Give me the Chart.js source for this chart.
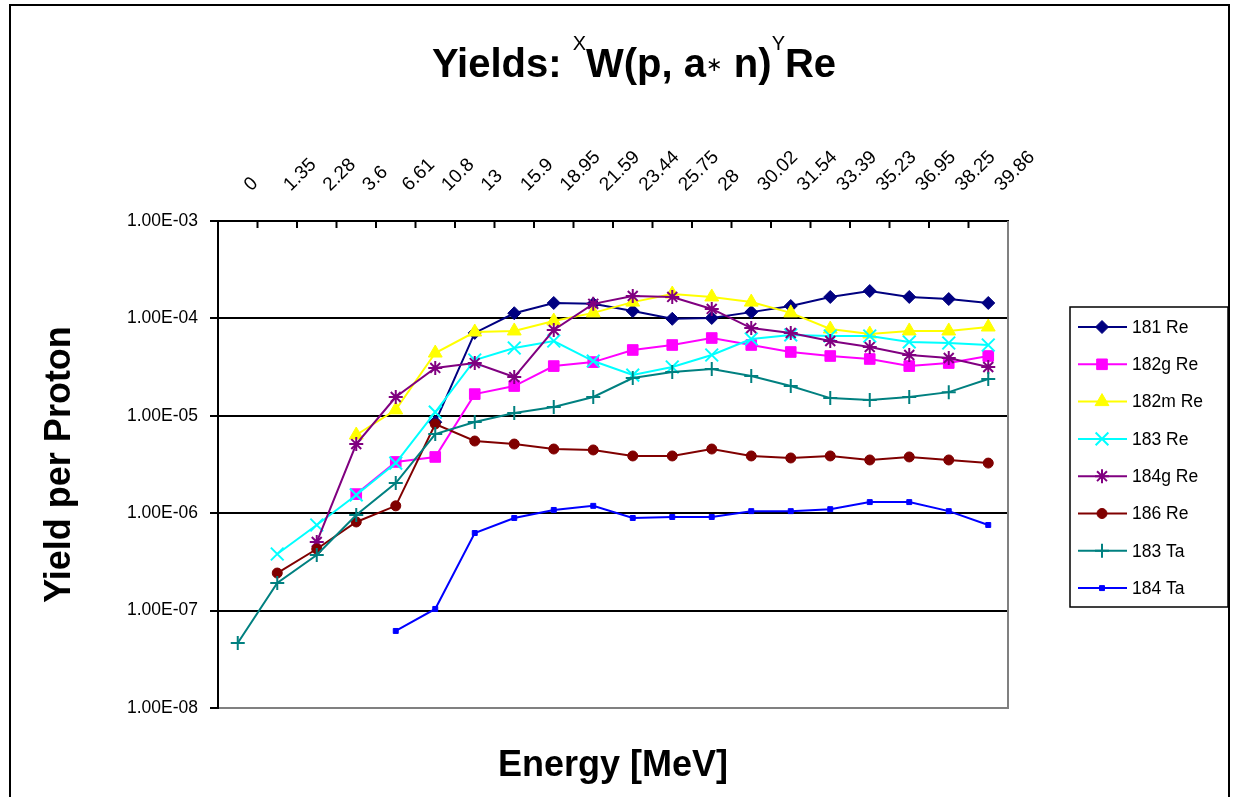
<!DOCTYPE html>
<html>
<head>
<meta charset="utf-8">
<script src="https://cdn.jsdelivr.net/npm/chart.js@4/dist/chart.umd.min.js"></script>
<style>
body{margin:0;background:#fff}
#wrap{width:1233px;height:797px;position:relative}
</style>
</head>
<body>
<div id="wrap"><canvas id="yieldChart"></canvas></div>
<script>
const energies=["0","1.35","2.28","3.6","6.61","10.8","13","15.9","18.95","21.59","23.44","25.75","28","30.02","31.54","33.39","35.23","36.95","38.25","39.86"]

const re181=[null,null,null,null,null,8.6e-6,7.1e-5,1.13e-4,1.44e-4,1.41e-4,1.19e-4,9.9e-5,1.01e-4,1.16e-4,1.34e-4,1.66e-4,1.91e-4,1.66e-4,1.58e-4,1.44e-4]
const re182g=[null,null,null,1.57e-6,3.36e-6,3.78e-6,1.67e-5,2.02e-5,3.24e-5,3.56e-5,4.74e-5,5.33e-5,6.29e-5,5.33e-5,4.52e-5,4.11e-5,3.83e-5,3.24e-5,3.48e-5,4.11e-5]
const re182m=[null,null,null,6.35e-6,1.15e-5,4.41e-5,7.25e-5,7.43e-5,9.4e-5,1.14e-4,1.47e-4,1.78e-4,1.66e-4,1.47e-4,1.14e-4,7.78e-5,6.92e-5,7.43e-5,7.43e-5,8.16e-5]
const re183=[null,3.81e-7,7.57e-7,1.54e-6,3.27e-6,1.09e-5,3.74e-5,4.97e-5,5.86e-5,3.65e-5,2.62e-5,3.17e-5,4.21e-5,6.15e-5,6.76e-5,6.6e-5,6.6e-5,5.73e-5,5.59e-5,5.33e-5]
const re184g=[null,null,5.06e-7,5.13e-6,1.56e-5,3.1e-5,3.48e-5,2.5e-5,7.6e-5,1.41e-4,1.7e-4,1.66e-4,1.25e-4,7.96e-5,7.08e-5,5.86e-5,5.08e-5,4.21e-5,3.92e-5,3.17e-5]
const re186=[null,2.43e-7,4.29e-7,8.13e-7,1.19e-6,8.24e-6,5.51e-6,5.13e-6,4.56e-6,4.46e-6,3.87e-6,3.87e-6,4.56e-6,3.87e-6,3.69e-6,3.87e-6,3.52e-6,3.78e-6,3.52e-6,3.27e-6]
const ta183=[4.65e-8,1.92e-7,3.72e-7,9.59e-7,2.04e-6,6.5e-6,8.63e-6,1.07e-5,1.23e-5,1.56e-5,2.44e-5,2.82e-5,3.02e-5,2.56e-5,2.02e-5,1.52e-5,1.45e-5,1.56e-5,1.75e-5,2.39e-5]
const ta184=[null,null,null,null,6.18e-8,1.04e-7,6.26e-7,8.93e-7,1.08e-6,1.19e-6,8.93e-7,9.14e-7,9.14e-7,1.05e-6,1.05e-6,1.1e-6,1.3e-6,1.3e-6,1.05e-6,7.57e-7]

const seriesNames=["181 Re","182g Re","182m Re","183 Re","184g Re","186 Re","183 Ta","184 Ta"]
const seriesData=[re181,re182g,re182m,re183,re184g,re186,ta183,ta184]
const yTicks=[1e-8,1e-7,1e-6,1e-5,1e-4,1e-3]

const colors=["#000080","#FF00FF","#FFFF00","#00FFFF","#800080","#800000","#008080","#0000FF"]
const styles=["rectRot","rect","triangle","crossRot","star","circle","cross","rect"]
const radii=[6.5,7.5,8,9,7,5,7,3.5]

function sci(v){
let e=Math.round(Math.log10(v))
return "1.00E"+(e<0?"-":"+")+String(Math.abs(e)).padStart(2,"0")
}

const FONT="'Liberation Sans', Arial, sans-serif"

const datasets=seriesNames.map((n,i)=>({
label:n,
data:seriesData[i],
borderColor:colors[i],
backgroundColor:colors[i],
pointBackgroundColor:colors[i],
pointBorderColor:colors[i],
pointStyle:styles[i],
pointRadius:radii[i],
pointBorderWidth:(styles[i]=="cross"||styles[i]=="crossRot"||styles[i]=="star")?2:1,
borderWidth:2,
tension:0,
spanGaps:false,
order:seriesNames.length-i,
xAxisID:"x",
yAxisID:"y"
}))

const decor={
id:"decor",
beforeDraw(chart){
const c=chart.ctx
c.save()
c.fillStyle="#fff"
c.fillRect(0,0,chart.width,chart.height)
c.restore()
},
afterDraw(chart){
const c=chart.ctx
const x=chart.scales.x
const a=chart.chartArea
c.save()

// inside tick marks on the top axis, between categories
c.strokeStyle="#000"
c.lineWidth=2
for(let i=1;i<energies.length;i++){
let px=(x.getPixelForTick(i-1)+x.getPixelForTick(i))/2
c.beginPath()
c.moveTo(px,a.top)
c.lineTo(px,a.top+7)
c.stroke()
}

// right edge of plot area
c.strokeStyle="#808080"
c.beginPath()
c.moveTo(a.right,a.top)
c.lineTo(a.right,a.bottom)
c.stroke()

// title with superscripts
const parts=[
{t:"Yields: ",f:"bold 40px "+FONT,dy:0},
{t:"X",f:"20px "+FONT,dy:-27},
{t:"W(p, a",f:"bold 40px "+FONT,dy:0},
{t:"\u2217",f:"20px 'DejaVu Sans'",dy:-6},
{t:" n)",f:"bold 40px "+FONT,dy:0},
{t:"Y",f:"20px "+FONT,dy:-27},
{t:"Re",f:"bold 40px "+FONT,dy:0}
]
let total=0
parts.forEach(p=>{c.font=p.f;p.w=c.measureText(p.t).width;total+=p.w})
let tx=634-total/2
c.fillStyle="#000"
c.textBaseline="alphabetic"
c.textAlign="left"
parts.forEach(p=>{c.font=p.f;c.fillText(p.t,tx,77+p.dy);tx+=p.w})

// legend box
const lx=1070,ly=307,lw=158,lh=300
c.strokeStyle="#000"
c.lineWidth=1.5
c.strokeRect(lx,ly,lw,lh)
chart.data.datasets.forEach((d,i)=>{
let yy=327+i*37.3
c.strokeStyle=d.borderColor
c.fillStyle=d.borderColor
c.lineWidth=2
c.beginPath()
c.moveTo(1078,yy)
c.lineTo(1127,yy)
c.stroke()
c.lineWidth=d.pointBorderWidth
Chart.helpers.drawPoint(c,{pointStyle:d.pointStyle,radius:d.pointRadius,rotation:0,borderWidth:d.pointBorderWidth},1102,yy)
c.fillStyle="#000"
c.font="17.5px "+FONT
c.textBaseline="middle"
c.fillText(d.label,1132,yy+1)
})

// outer frame
c.strokeStyle="#000"
c.lineWidth=2
c.strokeRect(10,5,1219,800)
c.restore()
}
}

const ctx=document.getElementById("yieldChart").getContext("2d")

const chart=new Chart(ctx,{
type:"line",
data:{
labels:energies,
datasets:datasets
},
options:{
animation:false,
responsive:true,
maintainAspectRatio:false,
layout:{padding:{left:0,top:0,right:225,bottom:0}},
plugins:{
legend:{display:false},
tooltip:{enabled:false}
},
scales:{
x:{
type:"category",
position:"top",
offset:true,
grid:{display:true,drawOnChartArea:false,drawTicks:false},
border:{display:true,color:"#000",width:2},
ticks:{
autoSkip:false,
maxRotation:45,
minRotation:45,
color:"#000",
padding:25,
labelOffset:26,
font:{family:FONT,size:19}
},
afterFit(s){s.height=221}
},
x2:{
type:"category",
position:"bottom",
labels:energies,
offset:true,
grid:{display:true,drawOnChartArea:false,drawTicks:false},
border:{display:true,color:"#808080",width:2},
ticks:{display:false},
title:{display:true,text:"Energy [MeV]",color:"#000",font:{family:FONT,size:36,weight:"bold"},padding:{top:0,bottom:9}},
afterFit(s){s.height=89}
},
y:{
type:"logarithmic",
position:"left",
min:1e-8,
max:1e-3,
afterBuildTicks(s){s.ticks=yTicks.map(v=>({value:v}))},
grid:{
color:(c)=>c.tick&&c.tick.value<2e-8?"#808080":"#000",
lineWidth:2,
tickLength:8,
tickColor:"#000"
},
border:{display:true,color:"#000",width:2},
ticks:{
color:"#000",
padding:12,
font:{family:FONT,size:17.5},
callback:(v)=>sci(v)
},
title:{display:true,text:"Yield per Proton",color:"#000",font:{family:FONT,size:36,weight:"bold"},padding:{top:38,bottom:0}},
afterFit(s){s.width=218}
}
}
},
plugins:[decor]
})
</script>
</body>
</html>
